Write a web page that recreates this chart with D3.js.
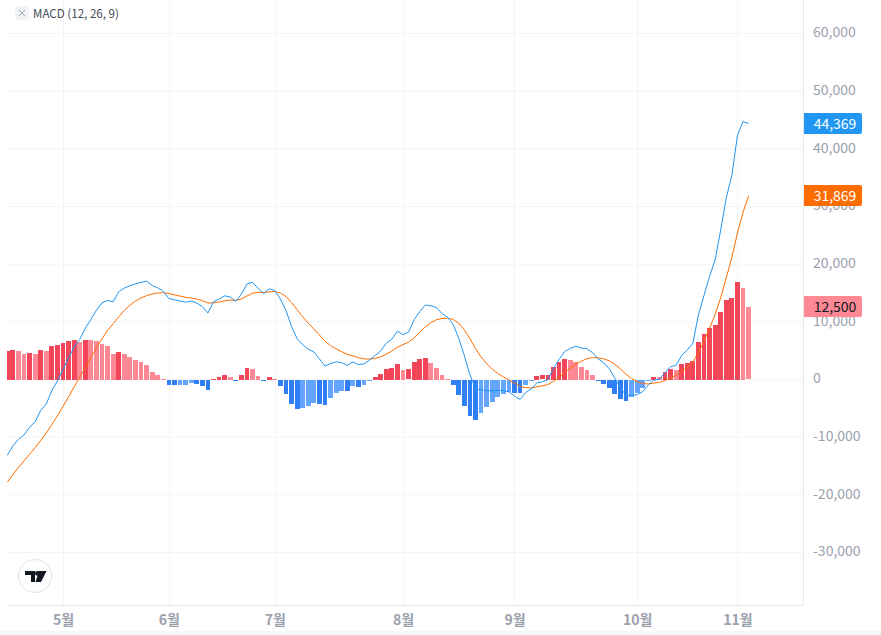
<!DOCTYPE html>
<html>
<head>
<meta charset="utf-8">
<script src="https://cdn.jsdelivr.net/npm/d3@7/dist/d3.min.js"></script>
<style>
  html, body { margin: 0; padding: 0; background: #fff; }
  svg { display: block; font-family: "Noto Sans CJK KR", "Noto Sans", sans-serif; }
</style>
</head>
<body>
<svg id="chart" width="881" height="635"></svg>
<script>
const monthLabels = ['5월', '6월', '7월', '8월', '9월', '10월', '11월'];
const monthIndex = [10, 29, 48, 71, 91, 113, 131];
const priceTicks = [60000, 50000, 40000, 30000, 20000, 10000, 0, -10000, -20000, -30000];
const legendText = 'MACD (12, 26, 9)';

const histValues = [
  5020, 5190, 5020, 4500, 4670, 4500, 5190, 5020, 5880, 6050,
  6400, 6750, 6920, 6570, 6920, 6900, 6750, 6230, 5880, 4500,
  4840, 4500, 3980, 3460, 3110, 2600, 1380, 865, 170, -865,
  -870, -860, -855, -520, -690, -1040, -1730, 170, 520, 865,
  520, -170, 865, 2080, 1900, 690, -170, 520, 170, -1040,
  -2420, -4150, -5020, -4840, -4500, -3980, -4150, -4325, -3110, -2250,
  -1900, -1910, -1040, -1210, -865, -170, 520, 1040, 1900, 2080,
  2770, 1730, 1735, 3110, 3630, 3800, 2940, 2080, 865, 170,
  -865, -2600, -4500, -6230, -6920, -5710, -4670, -3800, -2940, -2420,
  -2080, -2250, -2260, -865, -170, 690, 700, 865, 2250, 3110,
  3630, 3460, 3110, 2250, 1730, 865, -170, -690, -1380, -2420,
  -3290, -3630, -2940, -2250, -1380, -170, 520, 515, 1380, 1900,
  1730, 2770, 2940, 3290, 6570, 7960, 9000, 9520, 11760, 13840,
  14190, 16950, 15920, 12500
];

const macdValues = [
  -13150, -11500, -10400, -9620, -8280, -7330, -5340, -4260, -1930, -240,
  1710, 3750, 5640, 6940, 8900, 10400, 12000, 13300, 13700, 13500,
  15200, 15850, 16250, 16600, 16850, 17050, 16300, 15900, 15300, 14050,
  13810, 13610, 13400, 13600, 13260, 12650, 11530, 13470, 13950, 14515,
  14300, 13560, 14815, 16550, 16850, 15810, 14910, 15730, 15420, 13950,
  11970, 9200, 7080, 6050, 5260, 4790, 3580, 2325, 2760, 3060,
  2930, 2450, 3060, 2580, 2715, 3360, 4180, 4960, 6300, 7000,
  8380, 7770, 8215, 10360, 11790, 12910, 12790, 12450, 11445, 10800,
  9545, 7160, 4130, 850, -1570, -1790, -1920, -2000, -1870, -1960,
  -2140, -2870, -3450, -2265, -1620, -580, -400, -15, 1930, 3490,
  4830, 5410, 5760, 5450, 5330, 4665, 3590, 2900, 1860, 220,
  -1470, -2720, -2760, -2630, -2100, -930, -110, 15, 1220, 2210,
  2470, 4200, 5110, 6290, 11210, 14590, 17880, 20780, 25960, 31500,
  35400, 42350, 44720, 44369
];

const signalValues = [
  -17800, -16500, -15250, -14120, -12950, -11830, -10530, -9280, -7810, -6290,
  -4690, -3000, -1280, 370, 2100, 3820, 5510, 7070, 8540, 9660,
  10870, 12000, 12900, 13600, 14150, 14550, 14850, 15000, 15050, 14900,
  14680, 14470, 14250, 14120, 13950, 13690, 13260, 13300, 13430, 13650,
  13780, 13730, 13950, 14470, 14950, 15120, 15080, 15210, 15250, 14990,
  14390, 13350, 12100, 10890, 9760, 8770, 7730, 6650, 5870, 5310,
  4830, 4360, 4100, 3790, 3580, 3530, 3660, 3920, 4400, 4920,
  5610, 6040, 6480, 7250, 8160, 9110, 9850, 10370, 10580, 10630,
  10410, 9760, 8630, 7080, 5350, 3920, 2750, 1800, 1070, 460,
  -60, -620, -1190, -1400, -1450, -1270, -1100, -880, -320, 380,
  1200, 1950, 2650, 3200, 3600, 3800, 3760, 3590, 3240, 2640,
  1820, 910, 180, -380, -720, -760, -630, -500, -160, 310,
  740, 1430, 2170, 3000, 4640, 6630, 8880, 11260, 14200, 17660,
  21210, 25400, 29000, 31869
];

const plotLeft = 7, plotRight = 803.5, plotBottom = 605;
const svg = d3.select('#chart');

const x = d3.scaleLinear().domain([0, 133]).range([7.26, 748.6]);
const y = d3.scaleLinear().domain([-30000, 60000]).range([552.5, 33.5]);
const fmt = v => d3.format(',')(v).replace('\u2212', '-');

svg.append('rect').attr('width', 881).attr('height', 635).attr('fill', '#fff');
svg.append('rect').attr('y', 631).attr('width', 881).attr('height', 4).attr('fill', '#f5f6f8');

svg.append('defs').append('clipPath').attr('id', 'plot-clip')
  .append('rect')
  .attr('x', plotLeft).attr('y', 0)
  .attr('width', plotRight - plotLeft).attr('height', plotBottom);

// grid
svg.append('g').selectAll('line').data(priceTicks).enter().append('line')
  .attr('x1', plotLeft).attr('x2', plotRight)
  .attr('y1', d => y(d)).attr('y2', d => y(d))
  .attr('stroke', '#f3f4f6');
svg.append('g').selectAll('line').data(monthIndex).enter().append('line')
  .attr('x1', d => Math.round(x(d)) + 0.5).attr('x2', d => Math.round(x(d)) + 0.5)
  .attr('y1', 0).attr('y2', plotBottom)
  .attr('stroke', '#f3f4f6');

const content = svg.append('g').attr('clip-path', 'url(#plot-clip)');

// histogram, colour follows sign and direction
function barColor(d, i) {
  const prev = i > 0 ? histValues[i - 1] : d;
  if (d >= 0) return d >= prev ? '#f24658' : '#fe8893';
  return d <= prev ? '#2f80f6' : '#64a6ff';
}

content.append('g').selectAll('rect').data(histValues).enter().append('rect')
  .attr('x', (d, i) => Math.round(x(i) - 2.4))
  .attr('width', (d, i) => Math.round(x(i) + 2.4) - Math.round(x(i) - 2.4))
  .attr('y', d => Math.round(Math.min(y(d), y(0))))
  .attr('height', d => Math.max(1, Math.round(Math.abs(y(d) - y(0)))))
  .attr('fill', barColor);

const lineGen = d3.line().x((d, i) => x(i)).y(d => y(d));

content.append('path').datum(signalValues)
  .attr('d', lineGen).attr('fill', 'none')
  .attr('stroke', '#ff6d00').attr('stroke-width', 1);
content.append('path').datum(macdValues)
  .attr('d', lineGen).attr('fill', 'none')
  .attr('stroke', '#2196f3').attr('stroke-width', 1);

// axis frame
svg.append('line').attr('x1', plotLeft).attr('x2', plotRight)
  .attr('y1', plotBottom + 0.5).attr('y2', plotBottom + 0.5).attr('stroke', '#e6e8ed');
svg.append('line').attr('x1', plotRight).attr('x2', plotRight)
  .attr('y1', 0).attr('y2', plotBottom + 1).attr('stroke', '#e6e8ed');

// y axis
const yAxis = d3.axisRight(y).tickValues(priceTicks).tickSize(0).tickPadding(0).tickFormat(fmt);
const yG = svg.append('g').attr('transform', 'translate(813,-1)').call(yAxis);
yG.select('.domain').remove();
yG.selectAll('text')
  .attr('font-family', '"Noto Sans CJK KR", sans-serif')
  .attr('font-size', 14).attr('fill', '#9aa1ad');

// x axis
const xAxis = d3.axisBottom(x).tickValues(monthIndex).tickSize(0).tickPadding(0)
  .tickFormat((d, i) => monthLabels[i]);
const xG = svg.append('g').attr('transform', 'translate(0,' + 615 + ')').call(xAxis);
xG.select('.domain').remove();
xG.selectAll('text')
  .attr('font-family', '"Noto Sans CJK KR", sans-serif')
  .attr('font-size', 14).attr('font-weight', 700).attr('fill', '#9aa1ad');

// last value tags
const tags = [
  { value: macdValues[133], bg: '#2196f3', fg: '#fff' },
  { value: signalValues[133], bg: '#ff6d00', fg: '#fff' },
  { value: histValues[133], bg: '#fe8893', fg: '#131722' }
];
const tagG = svg.append('g').selectAll('g').data(tags).enter().append('g')
  .attr('transform', d => 'translate(804,' + (Math.round(y(d.value)) - 11) + ')');
tagG.append('path')
  .attr('d', 'M0 0H56a2 2 0 0 1 2 2V19a2 2 0 0 1 -2 2H0Z')
  .attr('fill', d => d.bg);
tagG.append('text')
  .attr('x', 31).attr('y', 15.5).attr('text-anchor', 'middle')
  .attr('font-size', 14).attr('fill', d => d.fg)
  .text(d => fmt(d.value));

// legend
svg.append('rect').attr('x', 15).attr('y', 6).attr('width', 14).attr('height', 14)
  .attr('rx', 3).attr('fill', '#f1f3f6');
svg.append('path').attr('d', 'M19 10L25 16M25 10L19 16')
  .attr('stroke', '#a3a8b3').attr('stroke-width', 1).attr('fill', 'none');
svg.append('text').attr('x', 33).attr('y', 18)
  .attr('font-size', 11.6).attr('fill', '#434a57').text(legendText);

// logo
const logo = svg.append('g').attr('transform', 'translate(35,576)');
logo.append('circle').attr('r', 16.5).attr('fill', '#fff').attr('stroke', '#e0e3eb');
logo.append('path').attr('fill', '#131722')
  .attr('d', 'M-10 -5H0V6H-4V-1H-10Z M4 -5H11.5L6 6H0.5Z');
logo.append('circle').attr('cx', 2.4).attr('cy', -2.6).attr('r', 2.4).attr('fill', '#131722');
</script>
</body>
</html>
